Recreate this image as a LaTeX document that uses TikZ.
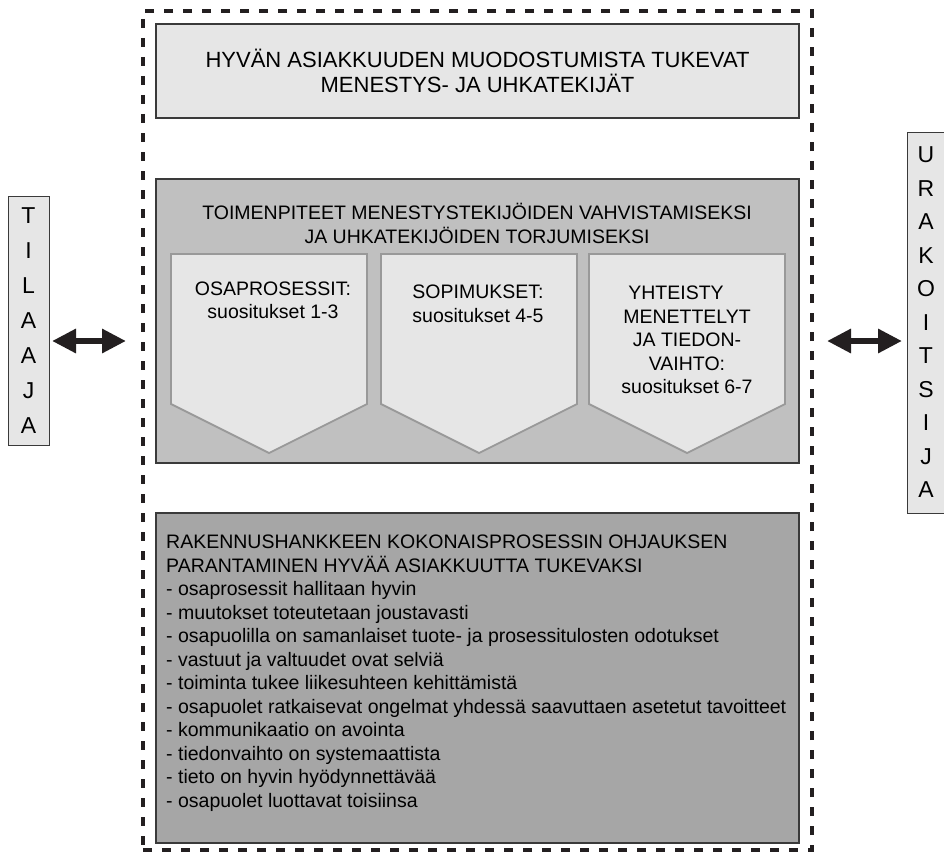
\documentclass[tikz,border=0pt]{standalone}
\usepackage{fontspec}
\setmainfont{Liberation Sans}
\usetikzlibrary{arrows.meta}
\definecolor{lightfill}{HTML}{E6E6E6}
\definecolor{midfill}{HTML}{C0C0C0}
\definecolor{darkfill}{HTML}{A6A6A6}
\definecolor{boxline}{HTML}{3A3A3A}
\definecolor{chevline}{HTML}{999999}
\definecolor{inkblack}{HTML}{231F20}
\tikzset{
  panel/.style={draw=boxline, line width=1.2pt, inner sep=0pt, minimum width=643pt},
  sidebox/.style={draw=boxline, line width=1pt, fill=lightfill, inner sep=0pt,
    align=center, font=\fontsize{23}{35}\selectfont},
  chevron/.style={draw=chevline, line width=1.8pt, fill=lightfill, line join=miter},
  bodytext/.style={inner sep=0pt, font=\fontsize{19.5}{23.5}\selectfont},
  bigarrow/.style={draw=inkblack, line width=6.5pt,
    {Triangle[length=24pt,width=23pt]}-{Triangle[length=24pt,width=23pt]}},
  frameline/.style={draw=inkblack, line width=3.5pt, dash pattern=on 9pt off 10pt, inner sep=0pt}
}
\begin{document}
\begin{tikzpicture}[x=1pt,y=-1pt]
\useasboundingbox (0,0) rectangle (944,856);

% dashed frame around the three panels
\node[frameline, minimum width=669pt, minimum height=839pt] (frame) at (477.5,430.5) {};

% top panel
\node[panel, fill=lightfill, minimum height=94pt, align=center,
      font=\fontsize{22}{25}\selectfont] (top) at (477.5,71)
  {HYVÄN ASIAKKUUDEN MUODOSTUMISTA TUKEVAT\\MENESTYS- JA UHKATEKIJÄT};

% middle panel with the three chevrons
\node[panel, fill=midfill, minimum height=284pt] (mid) at (477.5,321) {};
\node[bodytext, align=center] (midtitle) at (477,223.5)
  {TOIMENPITEET MENESTYSTEKIJÖIDEN VAHVISTAMISEKSI\\JA UHKATEKIJÖIDEN TORJUMISEKSI};

\draw[chevron] (171,254) -- (367,254) -- (367,404) -- (269,453) -- (171,404) -- cycle;
\draw[chevron] (381,254) -- (577,254) -- (577,404) -- (479,453) -- (381,404) -- cycle;
\draw[chevron] (589,254) -- (785,254) -- (785,404) -- (687,453) -- (589,404) -- cycle;

\node[bodytext, align=center] (c1) at (273,300.5)
  {OSAPROSESSIT:\\suositukset 1-3};
\node[bodytext, align=center] (c2) at (478,304)
  {SOPIMUKSET:\\suositukset 4-5};
\node[bodytext, align=center] (c3) at (687,340)
  {YHTEISTY\hspace*{22pt}\\MENETTELYT\\JA TIEDON-\\VAIHTO:\\suositukset 6-7};

% bottom panel
\node[panel, fill=darkfill, minimum height=330pt] (bot) at (477.5,678) {};
\node[bodytext, align=left, anchor=north west] (bottext) at (166,535)
  {RAKENNUSHANKKEEN KOKONAISPROSESSIN OHJAUKSEN\\
   PARANTAMINEN HYVÄÄ ASIAKKUUTTA TUKEVAKSI\\
   - osaprosessit hallitaan hyvin\\
   - muutokset toteutetaan joustavasti\\
   - osapuolilla on samanlaiset tuote- ja prosessitulosten odotukset\\
   - vastuut ja valtuudet ovat selviä\\
   - toiminta tukee liikesuhteen kehittämistä\\
   - osapuolet ratkaisevat ongelmat yhdessä saavuttaen asetetut tavoitteet\\
   - kommunikaatio on avointa\\
   - tiedonvaihto on systemaattista\\
   - tieto on hyvin hyödynnettävää\\
   - osapuolet luottavat toisiinsa};

% the two parties
\node[sidebox, minimum width=41pt, minimum height=249pt] (tilaaja) at (28.5,320.5)
  {T\\I\\L\\A\\A\\J\\A};
\node[sidebox, minimum width=38pt, minimum height=381pt,
      font=\fontsize{23}{33.5}\selectfont] (urakoitsija) at (926,322.5)
  {U\\R\\A\\K\\O\\I\\T\\S\\I\\J\\A};

% two-way links between the parties and the frame
\coordinate (la) at (52,341);
\coordinate (lb) at (126,341);
\coordinate (ra) at (827,341);
\coordinate (rb) at (902,341);
\draw[bigarrow] (la) -- (lb);
\draw[bigarrow] (ra) -- (rb);
\end{tikzpicture}
\end{document}
